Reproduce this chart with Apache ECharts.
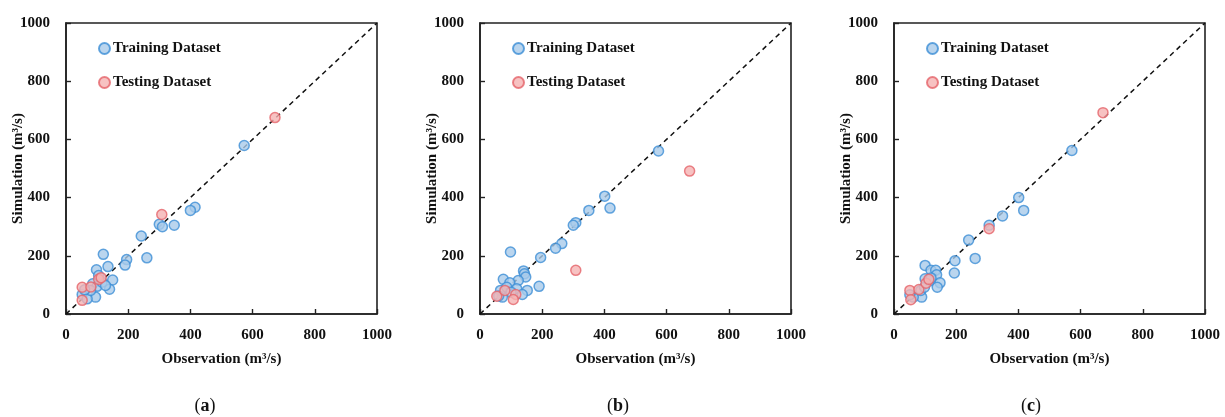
<!DOCTYPE html>
<html>
<head>
<meta charset="utf-8">
<script src="https://cdn.jsdelivr.net/npm/echarts@6/dist/echarts.min.js"></script>
<style>
html,body{margin:0;padding:0;background:#fff;}
#chart{width:1225px;height:417px;}
</style>
</head>
<body>
<div id="chart"></div>
<script>
// ---- Data (Observation, Simulation) in m3/s ----
const panelLabels = ['a', 'b', 'c'];
const axisTicks = [0, 200, 400, 600, 800, 1000];
const identityLine = [[0, 0], [1000, 1000]];

const trainA = [[415,367],[400,356],[300,308],[310,300],[348,305],[242,268],[260,193],[195,187],[190,168],
  [120,205],[135,163],[98,152],[150,117],[140,85],[95,58],[52,67],[68,52],[86,104],[100,95],[116,109],
  [127,98],[105,132],[79,81],[60,83],[573,579]];
const testA = [[308,342],[672,675],[52,92],[52,47],[80,93],[105,119],[113,125]];

const trainB = [[401,405],[418,364],[350,356],[308,314],[300,305],[263,242],[243,226],[195,194],[190,95],
  [98,213],[140,148],[143,138],[147,127],[123,115],[75,119],[96,107],[118,87],[152,81],[136,67],[72,58],
  [66,81],[86,92],[100,75],[60,62],[574,560]];
const testB = [[308,150],[674,491],[54,61],[80,81],[115,67],[107,50]];

const trainC = [[401,400],[417,356],[349,337],[306,305],[240,254],[261,191],[196,183],[194,141],[100,167],
  [119,150],[134,150],[137,135],[148,107],[139,92],[100,121],[113,113],[89,58],[62,58],[51,66],[86,81],
  [98,92],[119,124],[572,562]];
const testC = [[306,293],[672,692],[51,81],[54,49],[80,84],[103,106],[112,119]];

const trainSets = [trainA, trainB, trainC];
const testSets = [testA, testB, testC];

// ---- Layout ----
const gridLefts = [66, 480, 894];
const captionX = [200, 613, 1026];
const gridW = 311, gridTop = 23, gridH = 291;
const serif = '"Liberation Serif", "DejaVu Serif", serif';

const trainStyle = { color: '#a9cbea', borderColor: '#3d8fd6', borderWidth: 1.5 };
const testStyle = { color: '#f5b3b3', borderColor: '#e5646a', borderWidth: 1.5 };

const grids = [], xAxes = [], yAxes = [], series = [], legends = [], titles = [];
const axisLineStyle = { color: '#222', width: 1.6 };

panelLabels.forEach((p, i) => {
  grids.push({ left: gridLefts[i], top: gridTop, width: gridW, height: gridH,
    show: true, borderColor: '#222', borderWidth: 1.6, backgroundColor: 'transparent' });
  const common = {
    gridIndex: i, type: 'value', min: 0, max: 1000, interval: 200,
    splitLine: { show: false },
    axisLine: { show: true, onZero: false, lineStyle: axisLineStyle },
    axisTick: { show: true, inside: true, length: 5, lineStyle: { color: '#222', width: 1.4 } },
    nameLocation: 'middle',
    nameMoveOverlap: false,
    nameTextStyle: { color: '#111', fontFamily: serif, fontSize: 15, fontWeight: 'bold' }
  };
  const lbl = (m) => ({ color: '#111', fontFamily: serif, fontSize: 15, fontWeight: 'bold', margin: m,
    formatter: (v) => String(v) });
  xAxes.push(Object.assign({}, common, { name: 'Observation (m³/s)', nameGap: 38, axisLabel: lbl(14) }));
  yAxes.push(Object.assign({}, common, { name: 'Simulation (m³/s)', nameGap: 40, axisLabel: lbl(16) }));

  series.push({
    type: 'line', xAxisIndex: i, yAxisIndex: i, data: identityLine, symbol: 'none',
    silent: true, z: 1,
    lineStyle: { color: '#111', width: 1.5, type: [5, 4] }
  });
  series.push({
    name: 'Training Dataset', type: 'scatter', xAxisIndex: i, yAxisIndex: i,
    data: trainSets[i], symbol: 'circle', symbolSize: 10, itemStyle: trainStyle, z: 3
  });
  series.push({
    name: 'Testing Dataset', type: 'scatter', xAxisIndex: i, yAxisIndex: i,
    data: testSets[i], symbol: 'circle', symbolSize: 10, itemStyle: testStyle, z: 4
  });
  legends.push({
    orient: 'vertical', left: gridLefts[i] + 27, top: 36,
    itemWidth: 11, itemHeight: 11, itemGap: 19, icon: 'circle',
    data: ['Training Dataset', 'Testing Dataset'],
    textStyle: { color: '#111', fontFamily: serif, fontSize: 15, fontWeight: 'bold', padding: [0, 0, 0, -2] }
  });
  titles.push({
    text: '({b|' + p + '})',
    left: captionX[i], top: 392,
    textAlign: 'center',
    textStyle: {
      fontFamily: serif, fontSize: 18, fontWeight: 'normal', color: '#111',
      rich: { b: { fontFamily: serif, fontSize: 18, fontWeight: 'bold', color: '#111' } }
    }
  });
});

const chart = echarts.init(document.getElementById('chart'), null, { renderer: 'canvas' });
chart.setOption({
  backgroundColor: '#fff',
  animation: false,
  title: titles,
  legend: legends,
  grid: grids,
  xAxis: xAxes,
  yAxis: yAxes,
  series: series
});
</script>
</body>
</html>
